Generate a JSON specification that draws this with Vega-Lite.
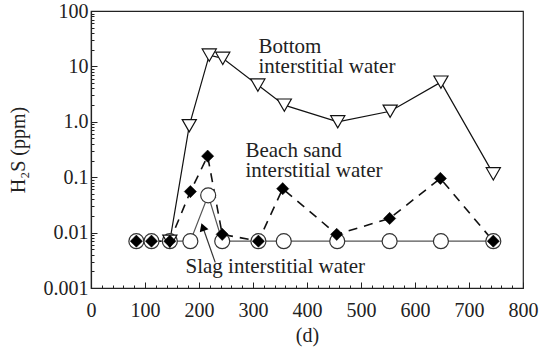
{
  "$schema": "https://vega.github.io/schema/vega-lite/v6.json",
  "width": 432,
  "height": 277,
  "autosize": "none",
  "padding": {"left": 91, "top": 11, "right": 18, "bottom": 63},
  "background": "white",
  "config": {
    "font": "Liberation Serif",
    "view": {"stroke": "#222", "strokeWidth": 1.2},
    "axis": {"grid": false, "domainColor": "#222", "tickColor": "#222", "labelColor": "#222", "titleColor": "#222", "labelFont": "Liberation Serif", "titleFont": "Liberation Serif", "labelFontSize": 20, "titleFontSize": 20, "titleFontWeight": "normal", "domainWidth": 1.2, "tickWidth": 1}
  },
  "datasets": {
    "bottom": [
      {"d": 146, "h2s": 0.007},
      {"d": 182, "h2s": 0.85},
      {"d": 219, "h2s": 16},
      {"d": 244, "h2s": 14},
      {"d": 309, "h2s": 4.6},
      {"d": 358, "h2s": 2.0},
      {"d": 457, "h2s": 1.0},
      {"d": 554, "h2s": 1.55},
      {"d": 648, "h2s": 5.2},
      {"d": 745, "h2s": 0.115}
    ],
    "beach": [
      {"d": 84, "h2s": 0.007},
      {"d": 112, "h2s": 0.007},
      {"d": 146, "h2s": 0.007},
      {"d": 184, "h2s": 0.055},
      {"d": 216, "h2s": 0.24},
      {"d": 243, "h2s": 0.0093},
      {"d": 310, "h2s": 0.007},
      {"d": 355, "h2s": 0.062},
      {"d": 455, "h2s": 0.0093},
      {"d": 553, "h2s": 0.018},
      {"d": 647, "h2s": 0.095},
      {"d": 745, "h2s": 0.007}
    ],
    "slag": [
      {"d": 84, "h2s": 0.007},
      {"d": 112, "h2s": 0.007},
      {"d": 146, "h2s": 0.007},
      {"d": 184, "h2s": 0.007},
      {"d": 217, "h2s": 0.047},
      {"d": 243, "h2s": 0.007},
      {"d": 310, "h2s": 0.007},
      {"d": 357, "h2s": 0.007},
      {"d": 456, "h2s": 0.007},
      {"d": 553, "h2s": 0.007},
      {"d": 648, "h2s": 0.007},
      {"d": 745, "h2s": 0.007}
    ],
    "notes": [
      {"d": 310, "h2s": 17.5, "text": "Bottom\ninterstitial water"},
      {"d": 286, "h2s": 0.234, "text": "Beach sand\ninterstitial water"},
      {"d": 175, "h2s": 0.00184, "text": "Slag interstitial water"}
    ],
    "arrow": [
      {"d": 230, "h2s": 0.0029},
      {"d": 207, "h2s": 0.0126}
    ],
    "head": [
      {"d": 207, "h2s": 0.0126}
    ]
  },
  "encoding": {
    "x": {"field": "d", "type": "quantitative", "scale": {"domain": [0, 800], "nice": false, "zero": false},
      "axis": {"title": "(d)", "values": [0,20,40,60,80,100,120,140,160,180,200,220,240,260,280,300,320,340,360,380,400,420,440,460,480,500,520,540,560,580,600,620,640,660,680,700,720,740,760,780,800],
        "labelExpr": "datum.value % 100 === 0 ? datum.label : ''",
        "tickSize": {"condition": {"test": "datum.value % 100 === 0", "value": -6}, "value": -3},
        "labelPadding": 18, "titlePadding": 5, "labelFlush": false}},
    "y": {"field": "h2s", "type": "quantitative", "scale": {"type": "log", "domain": [0.001, 100], "nice": false},
      "axis": {"title": "H₂S (ppm)", "values": [0.001,0.002,0.003,0.004,0.005,0.006,0.007,0.008,0.009,0.01,0.02,0.03,0.04,0.05,0.06,0.07,0.08,0.09,0.1,0.2,0.3,0.4,0.5,0.6,0.7,0.8,0.9,1,2,3,4,5,6,7,8,9,10,20,30,40,50,60,70,80,90,100],
        "labelExpr": "datum.value === 1 ? '1.0' : (abs(log(datum.value)/LN10 - round(log(datum.value)/LN10)) < 0.001 ? format(datum.value, '') : '')",
        "tickSize": {"condition": {"test": "abs(log(datum.value)/LN10 - round(log(datum.value)/LN10)) < 0.001", "value": -6}, "value": -3},
        "labelPadding": 9, "titlePadding": 15, "labelFlush": false}}
  },
  "layer": [
    {
      "data": {"name": "slag"},
      "mark": {"type": "line", "color": "#555", "strokeWidth": 1.2}
    },
    {
      "data": {"name": "bottom"},
      "mark": {"type": "line", "color": "#111", "strokeWidth": 1.2}
    },
    {
      "data": {"name": "beach"},
      "mark": {"type": "line", "color": "#111", "strokeWidth": 1.6, "strokeDash": [9, 7]}
    },
    {
      "data": {"name": "slag"},
      "mark": {"type": "point", "shape": "circle", "size": 225, "filled": true, "fill": "white", "stroke": "#333", "strokeWidth": 1.2, "opacity": 1}
    },
    {
      "data": {"name": "bottom"},
      "mark": {"type": "point", "shape": "triangle-down", "size": 200, "filled": true, "fill": "white", "stroke": "#111", "strokeWidth": 1.2, "opacity": 1}
    },
    {
      "data": {"name": "beach"},
      "mark": {"type": "point", "shape": "diamond", "size": 150, "filled": true, "fill": "black", "stroke": "black", "strokeWidth": 0.5, "opacity": 1}
    },
    {
      "data": {"name": "arrow"},
      "mark": {"type": "line", "color": "#333", "strokeWidth": 1.2}
    },
    {
      "data": {"name": "head"},
      "mark": {"type": "point", "shape": "triangle-up", "size": 85, "filled": true, "fill": "black", "angle": 340, "opacity": 1}
    },
    {
      "data": {"name": "notes"},
      "mark": {"type": "text", "align": "left", "baseline": "alphabetic", "font": "Liberation Serif", "fontSize": 21, "lineHeight": 20.5, "lineBreak": "\n", "color": "#222"},
      "encoding": {"text": {"field": "text"}}
    }
  ]
}
